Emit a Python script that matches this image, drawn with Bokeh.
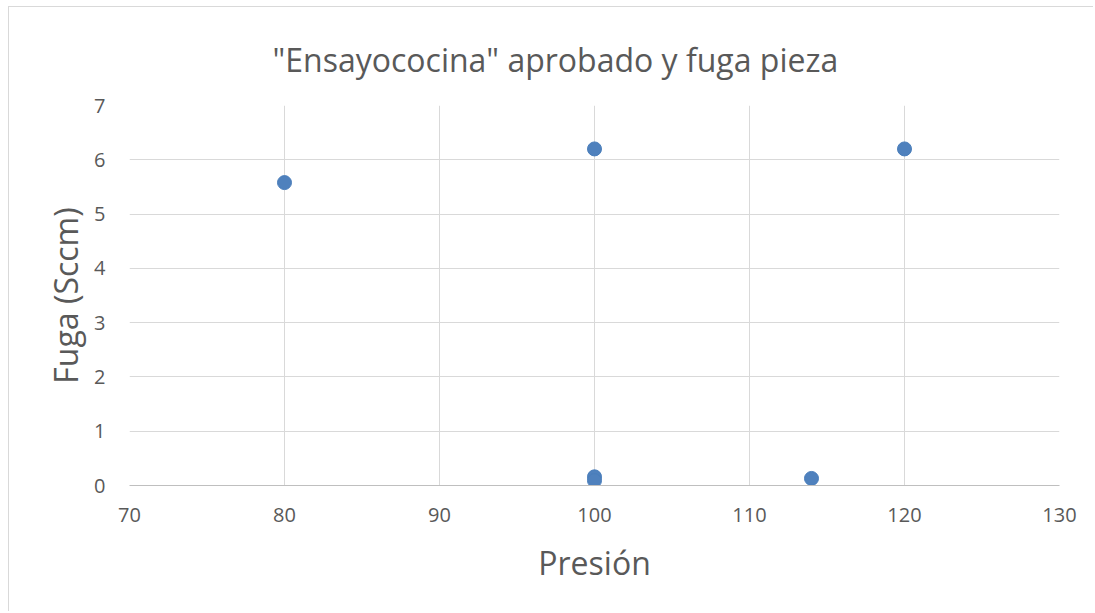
from bokeh.plotting import figure
from bokeh.models import Range1d, FixedTicker, ColumnDataSource
from bokeh.embed import file_html
from bokeh.resources import INLINE

presion = [80, 100, 120, 100, 100, 114]
fuga = [5.58, 6.2, 6.2, 0.16, 0.09, 0.13]
x_ticks = [70, 80, 90, 100, 110, 120, 130]
y_ticks = [0, 1, 2, 3, 4, 5, 6, 7]

src = ColumnDataSource(dict(x=presion, y=fuga))

p = figure(width=1085, height=605, output_backend="svg", toolbar_location=None,
           x_range=Range1d(70, 130), y_range=Range1d(0, 7),
           min_border_left=120, min_border_right=35, min_border_top=98, min_border_bottom=127)

p.title.text = '"Ensayococina" aprobado y fuga pieza'
p.title.align = "left"
p.title.text_font = "Open Sans"
p.title.text_font_size = "32px"
p.title.text_font_style = "normal"
p.title.text_color = "#595959"
p.title.offset = 143
p.title.standoff = 50

p.scatter("x", "y", source=src, size=14, fill_color="#4f81bd", line_color="#4a7ebb")

for ax, ticks in ((p.xaxis, x_ticks), (p.yaxis, y_ticks)):
    ax.ticker = FixedTicker(ticks=ticks)
    ax.major_tick_line_color = None
    ax.minor_tick_line_color = None
    ax.major_label_text_font = "Open Sans"
    ax.major_label_text_font_size = "20px"
    ax.major_label_text_color = "#595959"
    ax.axis_label_text_font = "Open Sans"
    ax.axis_label_text_font_size = "32px"
    ax.axis_label_text_font_style = "normal"
    ax.axis_label_text_color = "#595959"

p.xaxis.axis_label = "Presión"
p.yaxis.axis_label = "Fuga (Sccm)"
p.xaxis.axis_line_color = "#bfbfbf"
p.yaxis.axis_line_color = None
p.xaxis.major_label_standoff = 16
p.yaxis.major_label_standoff = 18
p.xaxis.axis_label_standoff = 16
p.yaxis.axis_label_standoff = 4

p.xgrid.grid_line_color = "#d9d9d9"
p.ygrid.grid_line_color = "#d9d9d9"
p.xgrid.ticker = FixedTicker(ticks=x_ticks)
p.ygrid.ticker = FixedTicker(ticks=y_ticks)
p.outline_line_color = None
p.styles = {"border-left": "1px solid #d9d9d9", "border-top": "1px solid #d9d9d9",
            "margin-left": "8px", "margin-top": "6px"}

open("out.html", "w").write(file_html(p, INLINE))
